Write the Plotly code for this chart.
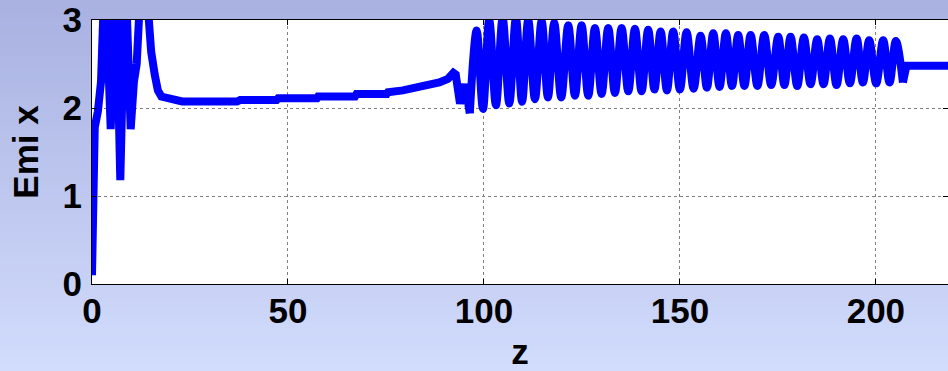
import plotly.graph_objects as go

# ---------------- data ----------------
# early, irregular part (z from 0 to the start of the regular oscillation)
early_z = [0.0, 0.15, 0.35, 0.7, 1.5, 2.3, 3.3, 4.77, 6.0, 7.22, 8.5, 9.87,
           10.7, 11.4, 12.2, 13.2, 14.0, 14.4, 15.1, 16.0, 16.8, 17.7, 19.4,
           21.0, 23.0, 37.0, 37.8, 47.1, 47.5, 57.4, 57.7, 67.1, 67.5, 75.2,
           75.5, 79.3, 82.7, 86.1, 88.6, 90.8, 92.2, 92.8, 93.9, 95.2, 96.4]
early_v = [0.1, 0.9, 1.72, 1.78, 1.96, 2.3, 3.6, 1.76, 3.6, 1.18, 3.6, 1.76,
           2.3, 2.5, 3.2, 3.6, 3.3, 3.0, 2.64, 2.38, 2.2, 2.13, 2.11,
           2.09, 2.075, 2.075, 2.09, 2.09, 2.11, 2.11, 2.13, 2.13, 2.16, 2.16,
           2.18, 2.20, 2.23, 2.26, 2.29, 2.33, 2.40, 2.38, 2.05, 2.27, 1.94]

# regular oscillation: peaks
peak_z = [98.14, 101.35, 104.77, 108.16, 111.30, 114.72, 117.93, 121.51, 124.92,
          128.32, 131.71, 135.13, 138.52, 141.91, 145.08, 148.29, 151.71, 155.28,
          158.50, 161.73, 164.87, 168.04, 171.51, 175.08, 178.24, 181.63, 185.03,
          188.27, 191.66, 195.08, 198.29, 201.86, 205.10]
peak_v = [2.88, 3.00, 3.02, 3.02, 3.00, 2.99, 2.97, 2.94, 2.94, 2.91, 2.91, 2.91,
          2.90, 2.89, 2.87, 2.87, 2.86, 2.82, 2.85, 2.85, 2.83, 2.83, 2.83, 2.81,
          2.81, 2.80, 2.78, 2.79, 2.78, 2.79, 2.77, 2.77, 2.76]
# troughs following each peak
trough_z = [99.75, 103.06, 106.47, 109.73, 113.01, 116.33, 119.72, 123.22, 126.62,
            130.02, 133.42, 136.83, 140.22, 143.50, 146.69, 150.00, 153.50, 156.89,
            160.12, 163.30, 166.46, 169.78, 173.30, 176.66, 179.94, 183.33, 186.65,
            189.97, 193.37, 196.69, 200.08, 203.48, 206.90]
trough_v = [1.99, 2.03, 2.05, 2.07, 2.10, 2.12, 2.12, 2.14, 2.14, 2.16, 2.17, 2.19,
            2.19, 2.21, 2.20, 2.21, 2.22, 2.23, 2.24, 2.25, 2.25, 2.25, 2.26, 2.26,
            2.25, 2.27, 2.27, 2.26, 2.28, 2.29, 2.28, 2.29, 2.29]

# flat tail
tail_z = [207.8, 218.4]
tail_v = [2.48, 2.48]

x_ticks = [0, 50, 100, 150, 200]
y_ticks = [0, 1, 2, 3]
x_title = "z"
y_title = "Emi x"

# ---------------- build the oscillation sequence ----------------
osc_z = [early_z[-1]]
osc_v = [early_v[-1]]
for pz, pv, tz, tv in zip(peak_z, peak_v, trough_z, trough_v):
    osc_z += [pz, tz]
    osc_v += [pv, tv]
end_z = [trough_z[-1]] + tail_z
end_v = [trough_v[-1]] + tail_v

BLUE = "#0000FF"
LW = 8

fig = go.Figure()
fig.add_trace(go.Scatter(x=early_z, y=early_v, mode="lines",
                         line=dict(color=BLUE, width=LW), showlegend=False,
                         hoverinfo="skip"))
fig.add_trace(go.Scatter(x=osc_z, y=osc_v, mode="lines",
                         line=dict(color=BLUE, width=LW, shape="spline", smoothing=1),
                         showlegend=False, hoverinfo="skip"))
fig.add_trace(go.Scatter(x=end_z, y=end_v, mode="lines",
                         line=dict(color=BLUE, width=LW), showlegend=False,
                         hoverinfo="skip"))

# ---------------- gradient background (style only) ----------------
W, H = 948, 371
L, R, T, B = 92, 0, 20, 87
pw, ph = W - L - R, H - T - B
top_c = (168, 177, 224)
bot_c = (210, 220, 252)
nb = 53
shapes = []
for i in range(nb):
    y0px = H * i / nb
    y1px = H * (i + 1) / nb + 0.6
    f = (i + 0.5) / nb
    c = tuple(round(top_c[k] + (bot_c[k] - top_c[k]) * f) for k in range(3))
    shapes.append(dict(type="rect", xref="paper", yref="paper", layer="below",
                       x0=-L / pw, x1=1 + R / pw + 0.01,
                       y0=(H - B - y1px) / ph, y1=(H - B - y0px) / ph,
                       line=dict(width=0), fillcolor="rgb(%d,%d,%d)" % c))
shapes.append(dict(type="rect", xref="paper", yref="paper", layer="below",
                   x0=0, x1=1, y0=0, y1=1, line=dict(width=0), fillcolor="white"))

font = dict(family="Liberation Sans, Arial, sans-serif", size=35, color="black",
            weight="bold")

axis_common = dict(showline=True, linecolor="black", linewidth=1, mirror="ticks",
                   ticks="inside", ticklen=5, tickcolor="black", tickwidth=1,
                   showgrid=True, gridcolor="#7f7f7f", griddash="dot", gridwidth=1,
                   zeroline=False, tickfont=font, automargin=False)

fig.update_layout(
    width=W, height=H,
    margin=dict(l=L, r=R, t=T, b=B, pad=0),
    paper_bgcolor="rgb(190,199,238)",
    plot_bgcolor="white",
    shapes=shapes,
    xaxis=dict(range=[0, 218.4], tickvals=x_ticks, ticktext=[str(t) for t in x_ticks],
               title=dict(text=x_title, font=font, standoff=17),
               ticklabelstandoff=-4, **axis_common),
    yaxis=dict(range=[0, 3], tickvals=y_ticks, ticktext=[str(t) for t in y_ticks],
               title=dict(text=y_title, font=font, standoff=13),
               ticklabelstandoff=2, **axis_common),
)

fig.write_html("out.html", config={"displayModeBar": False},
               post_script="document.body.style.margin='0';document.body.style.padding='0';")
